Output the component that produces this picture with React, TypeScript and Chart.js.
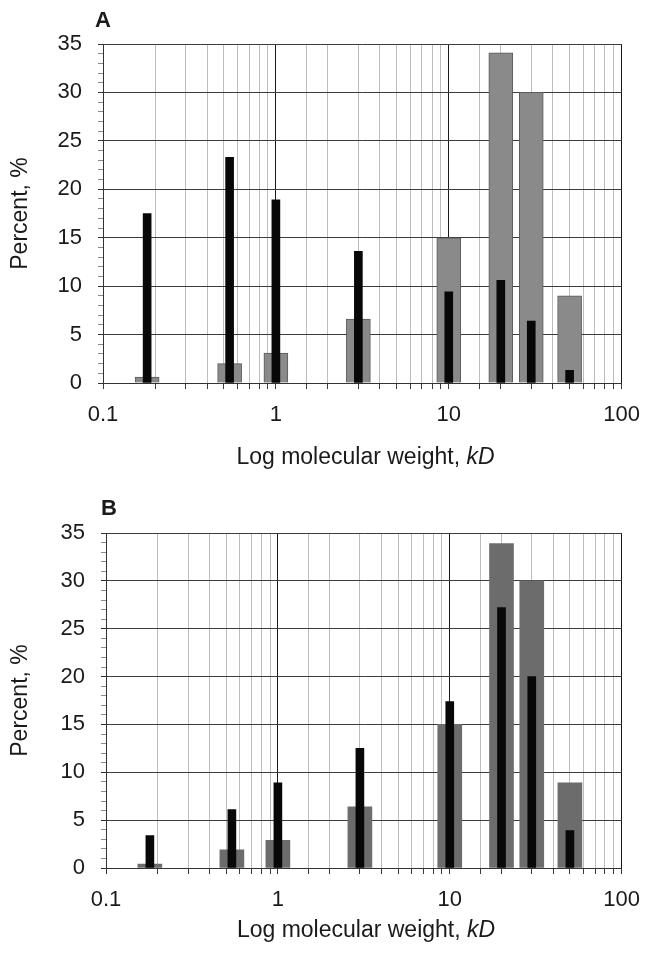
import React, { useEffect, useRef } from 'react';
import { Chart, registerables } from 'chart.js';

Chart.register(...registerables);

// Molecular-weight classes (kD) shared by both panels
const weightsKD = [0.18, 0.54, 1, 3, 10, 20, 30, 50];

// Panel A
const grayA = [0.6, 2.0, 3.1, 6.6, 15.0, 34.1, 30.0, 9.0];
const blackA = [17.5, 23.3, 18.9, 13.6, 9.4, 10.6, 6.4, 1.3];

// Panel B
const grayB = [0.4, 1.9, 2.9, 6.4, 15.0, 33.9, 30.0, 8.9];
const blackB = [3.4, 6.1, 8.9, 12.5, 17.4, 27.2, 20.0, 3.9];

const xTickLabels = ['0.1', '1', '10', '100'];
const yTitle = 'Percent, %';
const xTitle = 'Log molecular weight, ';
const xTitleUnit = 'kD';

const FONT = "'Liberation Sans', Arial, Helvetica, sans-serif";

function isDecade(v: number): boolean {
  const l = Math.log10(v);
  return Math.abs(l - Math.round(l)) < 1e-6;
}

type PanelSpec = {
  gray: number[];
  black: number[];
  grayColor: string;
  grayBorder: string;
  grayBorderWidth: number;
  padTop: number;
  padRight: number;
  yWidth: number;
  xHeight: number;
  width: number;
  height: number;
};

function Panel({ spec, top }: { spec: PanelSpec; top: number }) {
  const ref = useRef<HTMLCanvasElement>(null);

  useEffect(() => {
    if (!ref.current) return;
    const chart = new Chart(ref.current, {
      type: 'bar',
      data: {
        datasets: [
          {
            label: 'black',
            data: weightsKD.map((x, i) => ({ x, y: spec.black[i] })),
            backgroundColor: '#080808',
            borderWidth: 0,
            barThickness: 8,
            grouped: false,
            order: 1,
          },
          {
            label: 'gray',
            data: weightsKD.map((x, i) => ({ x, y: spec.gray[i] })),
            backgroundColor: spec.grayColor,
            borderColor: spec.grayBorder,
            borderWidth: spec.grayBorderWidth,
            barThickness: 24,
            grouped: false,
            order: 2,
          },
        ],
      } as any,
      options: {
        responsive: false,
        animation: false,
        devicePixelRatio: 1,
        layout: { padding: { top: spec.padTop, right: spec.padRight, left: 0, bottom: 0 } },
        plugins: { legend: { display: false }, tooltip: { enabled: false } },
        scales: {
          x: {
            type: 'logarithmic',
            min: 0.1,
            max: 100,
            offset: false,
            grid: {
              offset: false,
              color: (ctx: any) => (isDecade(ctx.tick.value) ? '#1a1a1a' : '#bdbdbd'),
              tickColor: '#3a3a3a',
              tickLength: 6,
              lineWidth: 1,
            },
            border: { color: '#333', width: 1 },
            ticks: {
              autoSkip: false,
              maxRotation: 0,
              minRotation: 0,
              padding: 13,
              color: '#1a1a1a',
              font: { size: 22, family: FONT },
              callback: (v: any) => {
                const n = Number(v);
                if (!isDecade(n)) return '';
                return xTickLabels[Math.round(Math.log10(n)) + 1] ?? '';
              },
            },
            afterFit: (s: any) => {
              s.height = spec.xHeight;
            },
          },
          y: {
            type: 'linear',
            min: 0,
            max: 35,
            grid: {
              color: (ctx: any) => (ctx.tick.value % 5 === 0 ? '#3c3c3c' : 'rgba(0,0,0,0)'),
              tickColor: (ctx: any) => (ctx.tick.value % 5 === 0 ? '#333' : '#8a8a8a'),
              tickLength: 5,
              lineWidth: 1,
            },
            border: { color: '#333', width: 1 },
            ticks: {
              stepSize: 1,
              autoSkip: false,
              padding: 16,
              color: '#1a1a1a',
              font: { size: 22, family: FONT },
              callback: (v: any) => (Number(v) % 5 === 0 ? String(v) : ''),
            },
            title: {
              display: true,
              text: yTitle,
              color: '#1a1a1a',
              font: { size: 23, family: FONT },
              padding: { top: 7, bottom: 0 },
            },
            afterFit: (s: any) => {
              s.width = spec.yWidth;
            },
          },
        },
      } as any,
    });
    return () => chart.destroy();
  }, [spec]);

  return (
    <canvas
      ref={ref}
      width={spec.width}
      height={spec.height}
      style={{ position: 'absolute', left: 0, top, width: spec.width, height: spec.height }}
    />
  );
}

const specA: PanelSpec = {
  gray: grayA,
  black: blackA,
  grayColor: '#8a8a8a',
  grayBorder: '#5a5a5a',
  grayBorderWidth: 1,
  padTop: 44,
  padRight: 25,
  yWidth: 103,
  xHeight: 87,
  width: 653,
  height: 470,
};

const specB: PanelSpec = {
  gray: grayB,
  black: blackB,
  grayColor: '#6c6c6c',
  grayBorder: '#6c6c6c',
  grayBorderWidth: 0,
  padTop: 63,
  padRight: 27,
  yWidth: 106,
  xHeight: 91,
  width: 653,
  height: 489,
};

const textBase: React.CSSProperties = {
  position: 'absolute',
  fontFamily: FONT,
  color: '#1a1a1a',
  lineHeight: 1,
  whiteSpace: 'nowrap',
};

export default function App() {
  return (
    <div
      style={{
        position: 'absolute',
        left: 0,
        top: 0,
        width: 653,
        height: 959,
        background: '#ffffff',
        overflow: 'hidden',
      }}
    >
      <Panel spec={specA} top={0} />
      <Panel spec={specB} top={470} />

      <div style={{ ...textBase, left: 95, top: 9, fontSize: 22, fontWeight: 'bold' }}>A</div>
      <div style={{ ...textBase, left: 101, top: 497, fontSize: 22, fontWeight: 'bold' }}>B</div>

      <div style={{ ...textBase, left: 365.5, top: 445, fontSize: 23, transform: 'translateX(-50%)' }}>
        {xTitle}
        <i>{xTitleUnit}</i>
      </div>
      <div style={{ ...textBase, left: 366, top: 918, fontSize: 23, transform: 'translateX(-50%)' }}>
        {xTitle}
        <i>{xTitleUnit}</i>
      </div>
    </div>
  );
}
